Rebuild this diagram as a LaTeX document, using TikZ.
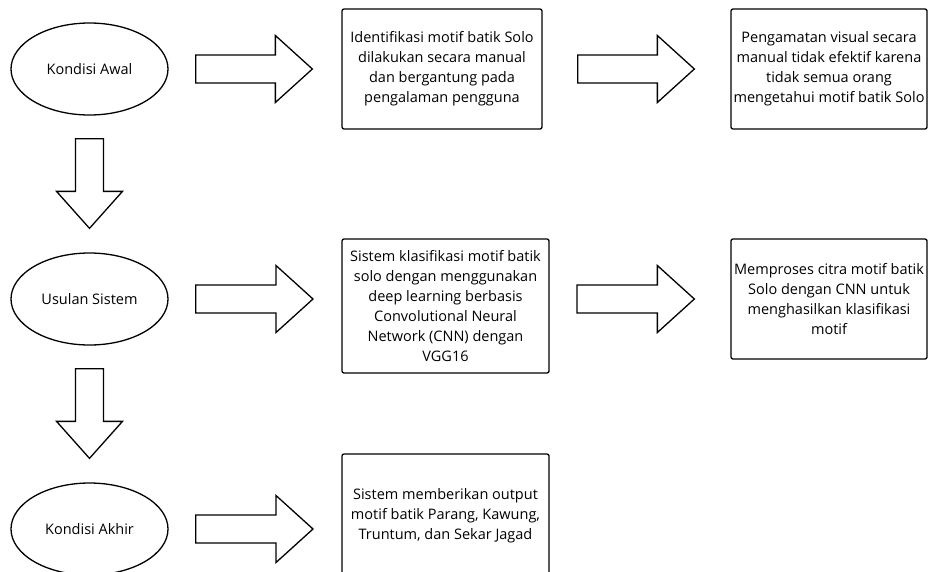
\documentclass[tikz,border=0pt]{standalone}
\usepackage{fontspec}
\setmainfont{Open Sans}
\usetikzlibrary{calc,shapes.geometric}
\newcommand{\blockR}[2]{\draw[blk] ($(#1)+(0,-14)$) -- ($(#2)+(-37,-14)$) -- ($(#2)+(-37,-33.5)$) -- (#2) -- ($(#2)+(-37,33.5)$) -- ($(#2)+(-37,14)$) -- ($(#1)+(0,14)$) -- cycle;}
\newcommand{\blockD}[2]{\draw[blk] ($(#1)+(-14,0)$) -- ($(#2)+(-14,-37)$) -- ($(#2)+(-33,-37)$) -- (#2) -- ($(#2)+(33,-37)$) -- ($(#2)+(14,-37)$) -- ($(#1)+(14,0)$) -- cycle;}
\begin{document}
\begin{tikzpicture}[x=1pt,y=-1pt,
  every node/.style={font=\fontsize{14.5}{20}\selectfont},
  ell/.style={ellipse, draw, line width=1.3pt, minimum width=157pt, minimum height=92pt, inner sep=0pt},
  box/.style={draw, rounded corners=2pt, line width=1.3pt, align=center, inner sep=0pt},
  blk/.style={draw, line width=1.3pt, line join=miter, fill=white}]
\useasboundingbox (0,0) rectangle (928,571);
\clip (0,0) rectangle (928,571);
\fill[white] (0,0) rectangle (928,571);
% condition ellipses
\node[ell] (e1) at (89.5,69) {Kondisi Awal};
\node[ell] (e2) at (89.5,299) {Usulan Sistem};
\node[ell] (e3) at (89.5,529) {Kondisi Akhir};
% boxes
\node[box, minimum width=200pt, minimum height=120pt] (b1) at (442,69)
  {Identifikasi motif batik Solo\\dilakukan secara manual\\dan bergantung pada\\pengalaman pengguna};
\node[box, minimum width=196pt, minimum height=120pt] (b2) at (829,69)
  {Pengamatan visual secara\\manual tidak efektif karena\\tidak semua orang\\mengetahui motif batik Solo};
\node[box, minimum width=207pt, minimum height=134pt] (b3) at (445.5,306)
  {Sistem klasifikasi motif batik\\solo dengan menggunakan\\deep learning berbasis\\Convolutional Neural\\Network (CNN) dengan\\VGG16};
\node[box, minimum width=196pt, minimum height=120pt] (b4) at (829,299)
  {Memproses citra motif batik\\Solo dengan CNN untuk\\menghasilkan klasifikasi\\motif};
\node[box, minimum width=207pt, minimum height=124pt] (b5) at (445.5,516)
  {Sistem memberikan output\\motif batik Parang, Kawung,\\Truntum, dan Sekar Jagad};
% arrow anchors
\coordinate (h1s) at ($(e1.east)+(27,0)$);
\coordinate (h1e) at ($(b1.west)+(-29,0)$);
\coordinate (h2s) at ($(b1.east)+(35,0)$);
\coordinate (h2e) at ($(b2.west)+(-36,0)$);
\coordinate (h3s) at ($(e2.east)+(27,0)$);
\coordinate (h3e) at (313,299);
\coordinate (h4s) at (577,299);
\coordinate (h4e) at ($(b4.west)+(-36,0)$);
\coordinate (h5s) at ($(e3.east)+(27,0)$);
\coordinate (h5e) at (313,529);
\coordinate (v1s) at ($(e1.south)+(0,23)$);
\coordinate (v1e) at ($(e2.north)+(0,-24)$);
\coordinate (v2s) at ($(e2.south)+(0,23)$);
\coordinate (v2e) at ($(e3.north)+(0,-24)$);
\blockR{h1s}{h1e}
\blockR{h2s}{h2e}
\blockR{h3s}{h3e}
\blockR{h4s}{h4e}
\blockR{h5s}{h5e}
\blockD{v1s}{v1e}
\blockD{v2s}{v2e}
\end{tikzpicture}
\end{document}
